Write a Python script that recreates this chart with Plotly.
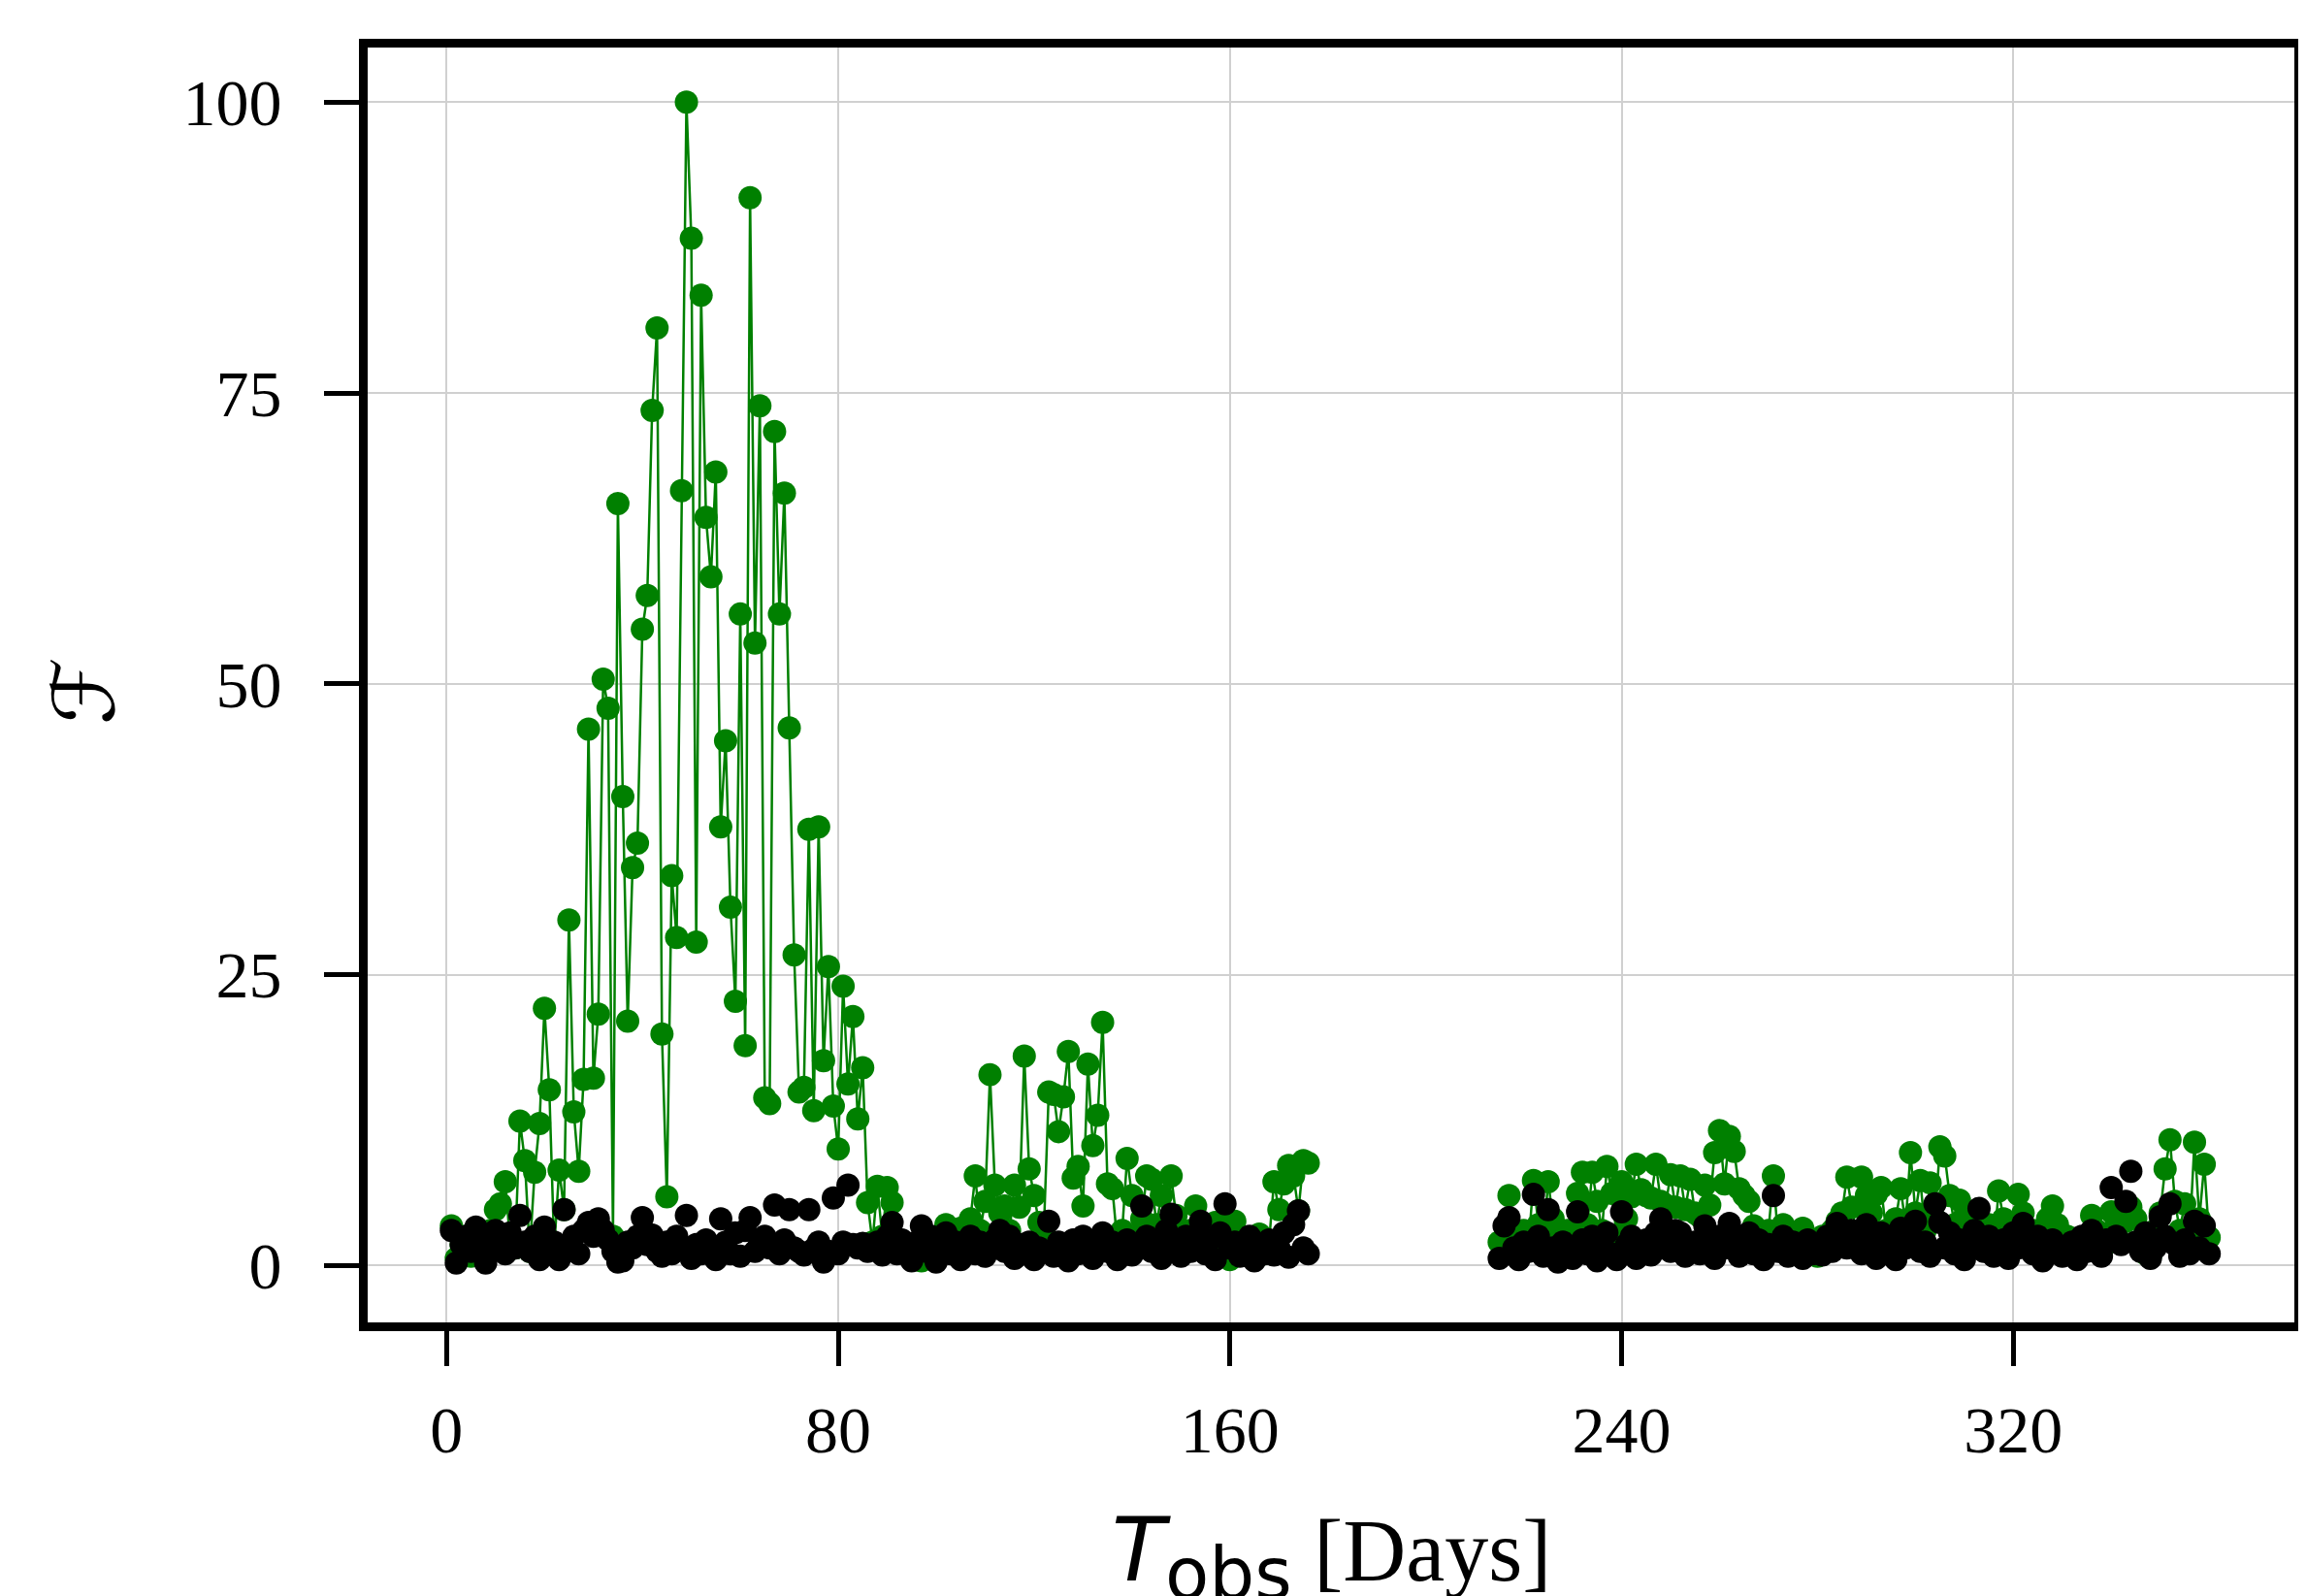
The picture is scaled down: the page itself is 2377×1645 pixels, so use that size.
import plotly.graph_objects as go

# ---- data ----
days_seg1 = list(range(1, 177))
days_seg2 = list(range(215, 361))

green_seg1 = [
    3.4, 0.6, 1.8, 2.5, 0.8, 1.5, 2.2, 1.0, 3.0, 4.8,
    5.3, 7.2, 2.0, 1.5, 12.4, 9.0, 1.2, 8.0, 12.2, 22.1,
    15.1, 1.5, 8.2, 4.8, 29.7, 13.2, 8.1, 16.0, 46.1, 16.1,
    21.6, 50.4, 47.9, 2.5, 65.5, 40.3, 21.0, 34.2, 36.3, 54.7,
    57.6, 73.5, 80.6, 19.9, 5.9, 33.5, 28.2, 66.6, 100.0, 88.3,
    27.8, 83.4, 64.3, 59.2, 68.2, 37.7, 45.1, 30.8, 22.7, 56.0,
    18.9, 91.8, 53.5, 73.9, 14.4, 13.9, 71.7, 56.0, 66.4, 46.2,
    26.7, 14.9, 15.3, 37.5, 13.3, 37.7, 17.6, 25.7, 13.7, 10.0,
    24.0, 15.6, 21.4, 12.6, 17.0, 5.4, 2.0, 6.8, 2.5, 6.7,
    5.4, 1.5, 2.0, 1.2, 0.8, 1.5, 0.4, 1.0, 1.8, 0.6,
    2.2, 3.5, 2.0, 2.8, 3.2, 1.5, 4.0, 7.7, 3.0, 5.5,
    16.4, 6.9, 4.5, 5.1, 3.0, 6.9, 5.0, 18.0, 8.3, 6.0,
    3.7, 3.0, 14.9, 14.7, 11.5, 14.5, 18.4, 7.5, 8.5, 5.1,
    17.3, 10.3, 12.9, 20.9, 7.0, 6.6, 2.0, 3.0, 9.2, 6.0,
    2.5, 4.0, 7.7, 7.4, 3.5, 6.0, 2.2, 7.7, 4.3, 2.5,
    1.8, 3.0, 5.1, 2.8, 1.5, 2.2, 3.7, 1.2, 4.0, 0.5,
    3.8, 1.5, 2.2, 0.8, 1.8, 2.7, 1.0, 2.0, 7.2, 4.8,
    7.0, 8.6, 7.7, 4.7, 9.0, 8.8,
]

black_seg1 = [
    3.0, 0.2, 1.8, 2.5, 1.2, 3.3, 2.0, 0.2, 1.5, 3.0,
    2.2, 1.0, 2.8, 1.5, 4.3, 2.0, 1.2, 2.5, 0.5, 3.3,
    1.5, 2.0, 0.5, 4.8, 1.8, 2.5, 1.0, 3.0, 3.7, 2.5,
    4.0, 3.0, 2.2, 1.2, 0.3, 0.4, 2.0, 1.5, 2.5, 4.1,
    1.8, 2.6, 1.2, 0.8, 2.0, 1.0, 2.5, 1.5, 4.3, 0.6,
    1.8, 1.0, 2.2, 1.5, 0.5, 4.0, 2.0, 1.0, 2.8, 0.8,
    3.0, 4.1, 1.2, 2.0, 2.5, 1.5, 5.2, 1.0, 2.2, 4.8,
    1.5, 1.2, 0.9, 4.8, 1.4, 2.0, 0.3, 1.2, 5.8, 1.0,
    2.0, 6.9, 1.8, 1.5, 1.9, 1.2, 1.5, 2.0, 0.9, 2.5,
    3.7, 1.0, 2.2, 1.5, 0.4, 2.0, 3.4, 1.2, 2.5, 0.3,
    1.5, 2.8, 1.0, 2.0, 0.5, 1.8, 2.5, 1.0, 2.0, 0.8,
    1.5, 2.2, 3.0, 1.2, 2.5, 0.6, 1.8, 1.0, 2.0, 0.5,
    1.5, 1.2, 3.8, 0.8, 2.0, 1.5, 0.4, 2.2, 1.0, 2.5,
    1.5, 0.6, 1.8, 2.8, 1.2, 2.0, 0.5, 1.5, 2.2, 0.9,
    1.8, 5.1, 2.5, 1.2, 2.0, 0.6, 3.0, 4.4, 1.5, 0.8,
    2.5, 1.2, 2.0, 3.8, 1.0, 2.2, 0.5, 2.8, 5.3, 1.5,
    2.0, 0.8, 1.2, 2.5, 0.4, 1.8, 1.0, 2.2, 0.9, 1.5,
    2.8, 0.7, 3.5, 4.7, 1.5, 1.0,
]

green_seg2 = [
    2.0, 1.5, 6.0, 2.5, 1.0, 3.0, 1.8, 7.3, 3.5, 2.2,
    7.2, 4.0, 2.5, 1.5, 3.0, 2.2, 6.2, 8.0, 3.5, 8.0,
    5.5, 3.0, 8.5, 6.2, 2.5, 7.2, 4.0, 5.9, 8.7, 6.5,
    6.0, 5.8, 8.7, 5.5, 5.2, 7.8, 5.0, 7.7, 4.8, 7.4,
    4.5, 4.2, 6.9, 5.2, 9.7, 11.6, 7.0, 11.1, 9.8, 6.6,
    6.0, 5.5, 3.4, 2.5, 1.5, 3.0, 7.7, 2.0, 3.5, 2.8,
    1.0, 2.5, 3.2, 1.5, 2.2, 0.8, 2.5, 1.5, 3.0, 3.8,
    4.5, 7.6, 5.0, 2.5, 7.6, 6.0, 4.5, 6.1, 6.7, 3.0,
    1.5, 4.0, 6.6, 3.5, 9.7, 4.5, 7.3, 3.0, 7.1, 4.0,
    10.2, 9.4, 6.0, 3.5, 5.6, 4.2, 2.5, 3.0, 4.0, 2.2,
    3.5, 1.5, 6.4, 4.0, 2.0, 3.2, 6.1, 4.5, 2.0, 3.0,
    1.2, 2.5, 4.0, 5.1, 3.5, 1.8, 2.5, 1.0, 0.8, 2.2,
    1.5, 4.3, 3.0, 1.2, 2.5, 4.6, 3.5, 2.0, 3.8, 5.0,
    4.0, 2.2, 1.0, 0.8, 3.0, 4.5, 8.3, 10.8, 5.5, 3.0,
    5.3, 2.5, 10.6, 4.0, 8.7, 2.4,
]

black_seg2 = [
    0.6, 3.4, 4.1, 1.5, 0.5, 2.0, 1.2, 6.1, 2.5, 0.8,
    4.8, 1.5, 0.3, 2.0, 1.2, 0.6, 4.6, 2.2, 1.0, 2.5,
    0.4, 1.8, 2.8, 1.0, 0.5, 4.6, 1.8, 2.5, 0.6, 1.5,
    2.2, 0.9, 2.8, 4.0, 2.0, 1.2, 3.0, 2.8, 0.8, 1.5,
    2.0, 1.0, 3.4, 1.8, 0.6, 2.5, 1.5, 3.6, 2.0, 0.8,
    1.5, 2.8, 1.0, 2.2, 0.5, 1.8, 6.0, 1.2, 2.5, 0.8,
    2.0, 1.5, 0.6, 2.2, 1.0, 1.8, 0.9, 2.5, 1.2, 3.6,
    2.0, 1.5, 3.0, 2.5, 1.0, 3.5, 1.8, 0.6, 2.8, 1.2,
    2.0, 0.5, 3.2, 1.5, 2.5, 3.8, 1.2, 2.0, 0.8, 5.3,
    3.7, 1.5, 2.8, 1.0, 2.2, 0.5, 1.8, 3.0, 4.9, 1.2,
    2.5, 0.8, 1.5, 2.2, 0.6, 2.8, 1.5, 3.6, 2.0, 1.0,
    2.5, 0.4, 1.8, 2.2, 1.2, 0.8, 1.5, 2.0, 0.5, 2.5,
    1.2, 3.0, 1.5, 0.8, 2.2, 6.7, 2.5, 1.8, 5.5, 8.1,
    2.0, 1.2, 2.8, 0.6, 1.5, 4.2, 2.5, 5.3, 1.8, 0.8,
    2.2, 1.0, 3.8, 1.5, 3.4, 1.0,
]

x_ticks = [0, 80, 160, 240, 320]
y_ticks = [0, 25, 50, 75, 100]

# ---- figure ----
W, H = 2377, 1645
ML, MR, MT, MB = 371, 20, 41, 290

green_x = days_seg1 + [None] + days_seg2
green_y = green_seg1 + [None] + green_seg2
black_x = days_seg1 + days_seg2
black_y = black_seg1 + black_seg2

fig = go.Figure()
fig.add_trace(go.Scatter(
    x=green_x, y=green_y, mode="lines+markers",
    line=dict(color="#008000", width=2.5),
    marker=dict(color="#008000", size=24),
    connectgaps=False, showlegend=False,
))
fig.add_trace(go.Scatter(
    x=black_x, y=black_y, mode="markers",
    marker=dict(color="#000000", size=24),
    showlegend=False,
))

tickfont = dict(family="Liberation Serif", size=68, color="black")
axis_common = dict(
    showline=True, linecolor="black", linewidth=9, mirror=True,
    ticks="outside", ticklen=36, tickwidth=5, tickcolor="black",
    showgrid=True, gridcolor="#d0d0d0", gridwidth=2,
    zeroline=False, tickfont=tickfont,
)

fig.update_xaxes(range=[-16.1, 377.4], tickvals=x_ticks,
                 ticktext=[str(v) for v in x_ticks],
                 ticklabelstandoff=7, **axis_common)
fig.update_yaxes(range=[-4.9, 104.7], tickvals=y_ticks,
                 ticktext=[str(v) for v in y_ticks],
                 ticklabelstandoff=30, **axis_common)

plot_w = W - ML - MR
plot_h = H - MT - MB

fig.add_annotation(
    xref="paper", yref="paper",
    x=(78 - ML) / plot_w, y=(H - MB - 705) / plot_h,
    text="ℱ", showarrow=False, textangle=-90,
    font=dict(family="DejaVu Sans", size=88, color="black"),
    xanchor="center", yanchor="middle",
)
fig.add_annotation(
    xref="paper", yref="paper",
    x=0.5, y=(H - MB - 1597) / plot_h,
    text='<span style="font-family:DejaVu Sans"><i>T</i><sub><span style="font-size:74px">obs</span></sub></span> [Days]',
    showarrow=False,
    font=dict(family="Liberation Serif", size=90, color="black"),
    xanchor="center", yanchor="middle",
)

fig.update_layout(
    width=W, height=H,
    margin=dict(l=ML, r=MR, t=MT, b=MB, pad=0),
    paper_bgcolor="white", plot_bgcolor="white",
)

fig.write_html("out.html")
